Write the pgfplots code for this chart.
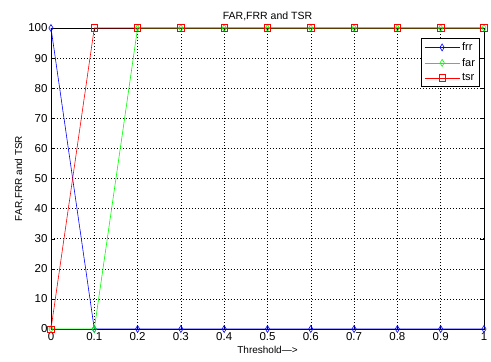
\documentclass[border=0pt]{standalone}
\usepackage{pgfplots}
\pgfplotsset{compat=1.18}
\usepackage{fontspec}
\setmainfont{Liberation Sans}
\begin{document}
\begin{tikzpicture}
\begin{axis}[
  scale only axis,
  width=433pt, height=301pt,
  xmin=0, xmax=1, ymin=0, ymax=100,
  xtick={0,0.1,...,1.01},
  xticklabels={0,0.1,0.2,0.3,0.4,0.5,0.6,0.7,0.8,0.9,1},
  ytick={0,10,...,100},
  tick align=inside,
  tick style={black, thin},
  major tick length=4pt,
  grid=major,
  major grid style={black, dash pattern=on 0.6pt off 2.4pt, line width=0.5pt},
  axis line style={black, line width=0.6pt},
  ticklabel style={font=\fontsize{11.5}{13}\selectfont},
  /pgf/number format/assume math mode=true,
  title={FAR,FRR and TSR},
  title style={font=\fontsize{10.5}{12}\selectfont, yshift=-2pt},
  xlabel={Threshold--->},
  xlabel style={font=\fontsize{10}{12}\selectfont, yshift=1pt},
  ylabel={FAR,FRR and TSR},
  ylabel style={font=\fontsize{10}{12}\selectfont, yshift=-2pt},
  clip=false,
  legend style={at={(0.99,0.967)}, anchor=north east, draw=black, line width=0.5pt,
    font=\fontsize{11}{13}\selectfont, row sep=2pt, inner sep=2.5pt},
  legend cell align=left,
  legend image code/.code={
    \draw[mark repeat=2,mark phase=2,#1] plot coordinates {(0cm,0cm) (0.62cm,0cm) (1.24cm,0cm)};
  },
]
\addplot[blue, mark=diamond, mark size=3.5pt, mark options={solid, fill=white, xscale=0.8}, line width=0.6pt]
  coordinates {(0,100) (0.1,0) (0.2,0) (0.3,0) (0.4,0) (0.5,0) (0.6,0) (0.7,0) (0.8,0) (0.9,0) (1,0)};
\addlegendentry{frr}
\addplot[green, mark=diamond, mark size=3.5pt, mark options={solid, fill=white, xscale=0.8}, line width=0.6pt]
  coordinates {(0,0) (0.1,0) (0.2,100) (0.3,100) (0.4,100) (0.5,100) (0.6,100) (0.7,100) (0.8,100) (0.9,100) (1,100)};
\addlegendentry{far}
\addplot[red, mark=square, mark size=3.2pt, mark options={solid}, line width=0.6pt]
  coordinates {(0,0) (0.1,100) (0.2,100) (0.3,100) (0.4,100) (0.5,100) (0.6,100) (0.7,100) (0.8,100) (0.9,100) (1,100)};
\addlegendentry{tsr}
\end{axis}
\path[use as bounding box] (-51pt,-33pt) rectangle (440pt,329pt);
\end{tikzpicture}
\end{document}
